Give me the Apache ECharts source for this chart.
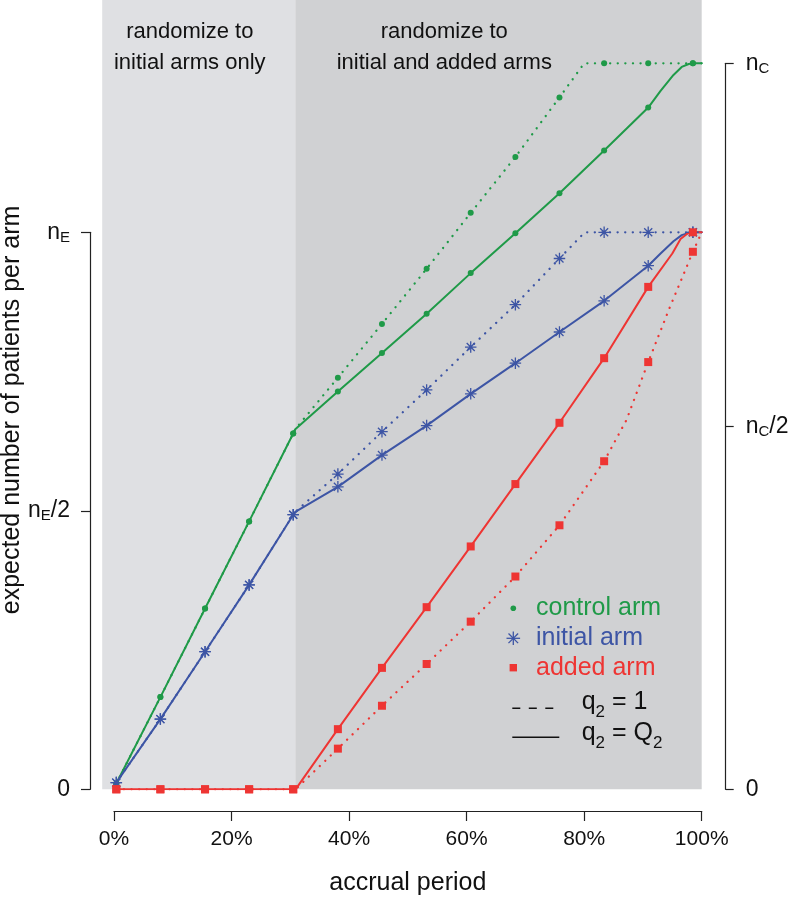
<!DOCTYPE html>
<html>
<head>
<meta charset="utf-8">
<script src="https://cdn.jsdelivr.net/npm/echarts@6/dist/echarts.min.js"></script>
<style>
html, body { margin: 0; padding: 0; background: #fff; }
#main { width: 792px; height: 901px; }
</style>
</head>
<body>
<div id="main"></div>
<script>
// accrual period (%) where the markers sit
var markX = [0.4, 7.9, 15.5, 23.0, 30.5, 38.1, 45.6, 53.2, 60.7, 68.3, 75.8, 83.4, 90.9, 98.5];

// control arm, fraction of n_C
var controlQ2 = [0.008, 0.127, 0.249, 0.369, 0.490, 0.548, 0.601, 0.655, 0.711, 0.766, 0.821, 0.880, 0.939, 1.0];
var controlOne = [0.008, 0.127, 0.249, 0.369, 0.490, 0.567, 0.641, 0.717, 0.794, 0.871, 0.953, 1.0, 1.0, 1.0];
// initial arm, fraction of n_E
var initialQ2 = [0.012, 0.126, 0.247, 0.367, 0.493, 0.543, 0.600, 0.653, 0.710, 0.765, 0.821, 0.877, 0.940, 1.0];
var initialOne = [0.012, 0.126, 0.247, 0.367, 0.493, 0.566, 0.642, 0.717, 0.794, 0.870, 0.953, 1.0, 1.0, 1.0];
// added arm, fraction of n_E
var addedQ2 = [0, 0, 0, 0, 0, 0.108, 0.218, 0.327, 0.436, 0.548, 0.658, 0.774, 0.902, 1.0];
var addedOne = [0, 0, 0, 0, 0, 0.073, 0.150, 0.225, 0.301, 0.382, 0.474, 0.589, 0.767, 0.965];

// extra points where the curves bend between markers
var controlQ2Bends = [[30.85, 0.496], [93.0, 0.962], [95.2, 0.984], [96.6, 0.995], [97.8, 0.999], [100, 1.0]];
var controlOneBends = [[30.85, 0.496], [80.0, 1.0], [100, 1.0]];
var initialQ2Bends = [[30.85, 0.498], [93.0, 0.962], [95.2, 0.984], [96.6, 0.995], [97.8, 0.999], [100, 1.0]];
var initialOneBends = [[30.85, 0.498], [80.1, 1.0], [100, 1.0]];
var addedQ2Bends = [[30.9, 0], [95.0, 0.962], [96.4, 0.988], [97.6, 0.998], [100, 1.0]];
var addedOneBends = [[30.9, 0], [87.2, 0.663], [94.6, 0.866], [100, 1.0]];

var phaseSplit = 30.85;
var phaseText = [["randomize to", "initial arms only"], ["randomize to", "initial and added arms"]];
var phaseTextX = [12.9, 56.2];

var GREEN = "#1f9a48", BLUE = "#3d55a5", RED = "#ee3533", INK = "#111";
var FONT = "Liberation Sans, Arial, Helvetica, sans-serif";

var L = 102.2, R = 90.3, B = 111.7;
var plotH = 789.3, nEpx = 557, nCpx = 726;

function merge(vals, bends) {
  var pts = markX.map(function (x, i) { return [x, vals[i]]; }).concat(bends);
  pts.sort(function (a, b) { return a[0] - b[0]; });
  return pts;
}
function marks(vals) {
  return markX.map(function (x, i) { return [x, vals[i]]; });
}
function curve(data, yIdx, color, dotted) {
  return {
    type: "line", xAxisIndex: 0, yAxisIndex: yIdx, data: data, symbol: "none",
    silent: true, z: 3,
    lineStyle: { color: color, width: dotted ? 2.3 : 2, type: dotted ? [0.1, 7.5] : "solid", cap: "round" }
  };
}
var starPath = "path://M5,0L5,10M0,5L10,5M1.5,1.5L8.5,8.5M1.5,8.5L8.5,1.5";
function dots(data, yIdx, color, shape) {
  var s = {
    type: "scatter", xAxisIndex: 0, yAxisIndex: yIdx, data: data, silent: true, z: 4,
    symbol: shape === "star" ? starPath : shape,
    symbolSize: shape === "star" ? 11.5 : shape === "rect" ? 8 : 6,
    itemStyle: { color: color, opacity: 1 }
  };
  if (shape === "star") s.itemStyle = { color: "rgba(0,0,0,0)", borderColor: color, borderWidth: 1.3, opacity: 1 };
  return s;
}

// n with a subscript letter, tick labels
var subRich = {
  n: { fontSize: 23, fontFamily: FONT, color: INK, lineHeight: 23 },
  s: { fontSize: 15, fontFamily: FONT, color: INK, lineHeight: 15, padding: [11, 0, 0, 0] }
};
var axisCol = { color: "#222", width: 1.2 };

var myChart = echarts.init(document.getElementById("main"));
var option = {
  animation: false,
  backgroundColor: "#fff",
  grid: [
    { left: L, right: R, top: 0, bottom: B },
    { left: 114, right: R, top: 0, bottom: B },
    { left: L, right: R, top: 232.3, bottom: B },
    { left: L, right: R, top: 63.3, bottom: B }
  ],
  xAxis: [
    { gridIndex: 0, type: "value", min: -2, max: 100, show: false },
    {
      gridIndex: 1, type: "value", min: 0, max: 100, interval: 20, position: "bottom", offset: 29.7,
      axisLine: { show: true, onZero: false, lineStyle: axisCol },
      axisTick: { show: true, length: 10, lineStyle: axisCol },
      splitLine: { show: false },
      axisLabel: { formatter: "{value}%", fontSize: 21, fontFamily: FONT, color: INK, margin: 18 },
      name: "accrual period", nameLocation: "middle", nameGap: 60,
      nameTextStyle: { fontSize: 25, fontFamily: FONT, color: INK }
    },
    { gridIndex: 2, type: "value", min: 0, max: 100, show: false },
    { gridIndex: 3, type: "value", min: 0, max: 100, show: false }
  ],
  yAxis: [
    { gridIndex: 0, type: "value", min: 0, max: plotH / nEpx, show: false },
    { gridIndex: 0, type: "value", min: 0, max: plotH / nCpx, show: false },
    { gridIndex: 1, type: "value", min: 0, max: 1, show: false },
    {
      gridIndex: 2, type: "value", min: 0, max: 1, interval: 0.5, position: "left", offset: 12.2,
      axisLine: { show: true, onZero: false, lineStyle: axisCol },
      axisTick: { show: true, length: 9, lineStyle: axisCol },
      splitLine: { show: false },
      axisLabel: {
        margin: 20, rich: subRich,
        formatter: function (v) {
          if (v === 0) return "{n|0}";
          if (v === 0.5) return "{n|n}{s|E}{n|/2}";
          if (v === 1) return "{n|n}{s|E}";
          return "";
        }
      }
    },
    {
      gridIndex: 3, type: "value", min: 0, max: 1, interval: 0.5, position: "right", offset: 24,
      axisLine: { show: true, onZero: false, lineStyle: axisCol },
      axisTick: { show: true, length: 8, lineStyle: axisCol },
      splitLine: { show: false },
      axisLabel: {
        margin: 20, rich: subRich,
        formatter: function (v) {
          if (v === 0) return "{n|0}";
          if (v === 0.5) return "{n|n}{s|C}{n|/2}";
          if (v === 1) return "{n|n}{s|C}";
          return "";
        }
      }
    }
  ],
  series: [
    {
      type: "line", xAxisIndex: 0, yAxisIndex: 0, data: [], z: 1, silent: true,
      markArea: {
        silent: true,
        data: [
          [{ xAxis: -2, itemStyle: { color: "#dfe0e3", opacity: 1 } }, { xAxis: phaseSplit }],
          [{ xAxis: phaseSplit, itemStyle: { color: "#d0d1d3", opacity: 1 } }, { xAxis: 100 }]
        ]
      }
    },
    curve(merge(controlOne, controlOneBends), 1, GREEN, true),
    curve(merge(controlQ2, controlQ2Bends), 1, GREEN, false),
    curve(merge(initialOne, initialOneBends), 0, BLUE, true),
    curve(merge(initialQ2, initialQ2Bends), 0, BLUE, false),
    curve(merge(addedOne, addedOneBends), 0, RED, true),
    curve(merge(addedQ2, addedQ2Bends), 0, RED, false),
    dots(marks(controlOne), 1, GREEN, "circle"),
    dots(marks(controlQ2), 1, GREEN, "circle"),
    dots(marks(initialOne), 0, BLUE, "star"),
    dots(marks(initialQ2), 0, BLUE, "star"),
    dots(marks(addedOne), 0, RED, "rect"),
    dots(marks(addedQ2), 0, RED, "rect")
  ]
};
myChart.setOption(option);

// texts and legend
var g = [];
phaseTextX.forEach(function (xv, i) {
  var px = myChart.convertToPixel({ gridIndex: 0 }, [xv, 0])[0];
  phaseText[i].forEach(function (t, j) {
    g.push({ type: "text", x: px, y: 31.5 + j * 31.7, z: 10,
      style: { text: t, fontSize: 22, fontFamily: FONT, fill: INK, align: "center", verticalAlign: "middle" } });
  });
});
g.push({ type: "text", x: 12, y: 410, rotation: Math.PI / 2, z: 10,
  style: { text: "expected number of patients per arm", fontSize: 25, fontFamily: FONT, fill: INK, align: "center", verticalAlign: "middle" } });

var lx = 513.3, tx = 536;
var legendRows = [["control arm", GREEN, 608.3], ["initial arm", BLUE, 638.3], ["added arm", RED, 667.7]];
legendRows.forEach(function (r) {
  g.push({ type: "text", x: tx, y: r[2], z: 10,
    style: { text: r[0], fontSize: 25, fontFamily: FONT, fill: r[1], align: "left", verticalAlign: "middle" } });
});
g.push({ type: "circle", z: 10, shape: { cx: lx, cy: 608.3, r: 2.8 }, style: { fill: GREEN } });
var sr = 6.8, sd = 4.8;
[[0, -sr, 0, sr], [-sr, 0, sr, 0], [-sd, -sd, sd, sd], [-sd, sd, sd, -sd]].forEach(function (s) {
  g.push({ type: "line", z: 10, shape: { x1: lx + s[0], y1: 638.3 + s[1], x2: lx + s[2], y2: 638.3 + s[3] },
    style: { stroke: BLUE, lineWidth: 1.3 } });
});
g.push({ type: "rect", z: 10, shape: { x: lx - 3.7, y: 667.7 - 3.7, width: 7.4, height: 7.4 }, style: { fill: RED } });
g.push({ type: "line", z: 10, shape: { x1: 512.3, y1: 708.3, x2: 553.3, y2: 708.3 },
  style: { stroke: INK, lineWidth: 1.6, lineDash: [8, 8.5] } });
g.push({ type: "line", z: 10, shape: { x1: 512.3, y1: 737.3, x2: 559.3, y2: 737.3 },
  style: { stroke: INK, lineWidth: 1.6 } });
var qRich = {
  n: { fontSize: 25, fontFamily: FONT, fill: INK, lineHeight: 25, verticalAlign: "bottom", padding: [0, 0, 6, 0] },
  s: { fontSize: 17, fontFamily: FONT, fill: INK, lineHeight: 17, verticalAlign: "bottom" }
};
g.push({ type: "text", x: 581.7, y: 708, z: 10,
  style: { text: "{n|q}{s|2}{n| = 1}", rich: qRich, align: "left", verticalAlign: "middle" } });
g.push({ type: "text", x: 581.7, y: 739, z: 10,
  style: { text: "{n|q}{s|2}{n| = Q}{s|2}", rich: qRich, align: "left", verticalAlign: "middle" } });

myChart.setOption({ graphic: g });
</script>
</body>
</html>
